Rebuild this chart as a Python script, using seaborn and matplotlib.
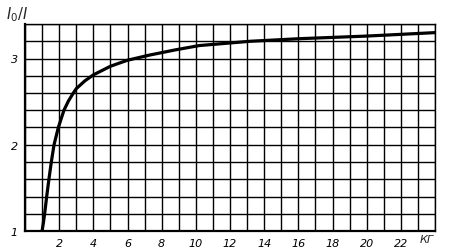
import matplotlib
matplotlib.use("Agg")
import matplotlib.pyplot as plt
import seaborn as sns
import pandas as pd

# data
load_kg = [1.0, 1.08, 1.15, 1.27, 1.40, 1.54, 1.70, 1.95, 2.28, 2.55, 2.83, 3.0, 3.5, 4.0, 5.0, 6.0, 7.3, 8.8, 10.2, 13.2, 16.1, 20.0, 24.0]
ratio = [1.0, 1.1, 1.2, 1.4, 1.6, 1.8, 2.0, 2.2, 2.4, 2.51, 2.6, 2.65, 2.74, 2.81, 2.91, 2.98, 3.04, 3.10, 3.15, 3.2, 3.23, 3.26, 3.30]
x_ticks = [2, 4, 6, 8, 10, 12, 14, 16, 18, 20, 22]
x_labels = ["2", "4", "6", "8", "10", "12", "14", "16", "18", "20", "22"]
y_ticks = [1, 2, 3]
y_labels = ["1", "2", "3"]

df = pd.DataFrame({"kg": load_kg, "ratio": ratio})

sns.set_style("white")
plt.rcParams["font.family"] = ["DejaVu Sans"]

fig = plt.figure(figsize=(4.5, 2.51), dpi=100)
ax = fig.add_axes([25/450, 19/251, 410/450, 207/251])

sns.lineplot(data=df, x="kg", y="ratio", ax=ax, color="black", linewidth=2.3, sort=False)

ax.set_xlim(0, 24)
ax.set_ylim(1, 3.4)
ax.set_xticks(x_ticks)
ax.set_xticklabels(x_labels, fontstyle="italic", fontsize=8)
ax.set_xticks([i for i in range(0, 25) if i not in x_ticks], minor=True)
ax.set_yticks(y_ticks)
ax.set_yticklabels(y_labels, fontstyle="italic", fontsize=8)
ax.set_yticks([1.2, 1.4, 1.6, 1.8, 2.2, 2.4, 2.6, 2.8, 3.2, 3.4], minor=True)
ax.grid(True, which="both", color="black", linewidth=1.0)
ax.tick_params(which="both", length=0, pad=5, colors="black")
ax.set_xlabel("")
ax.set_ylabel("")
for side, s in ax.spines.items():
    s.set_color("black")
    s.set_linewidth(1.0)
ax.spines["left"].set_linewidth(1.6)
ax.spines["bottom"].set_linewidth(1.6)
ax.set_axisbelow(True)

fig.text(23.5*410/24/450 + 25/450, 11/251, "КГ", fontstyle="italic", fontsize=8, ha="center", va="center")
fig.text(6/450, 236/251, r"$I_0/I$", fontsize=10.5, ha="left", va="center")

fig.savefig("out.png", dpi=100)
